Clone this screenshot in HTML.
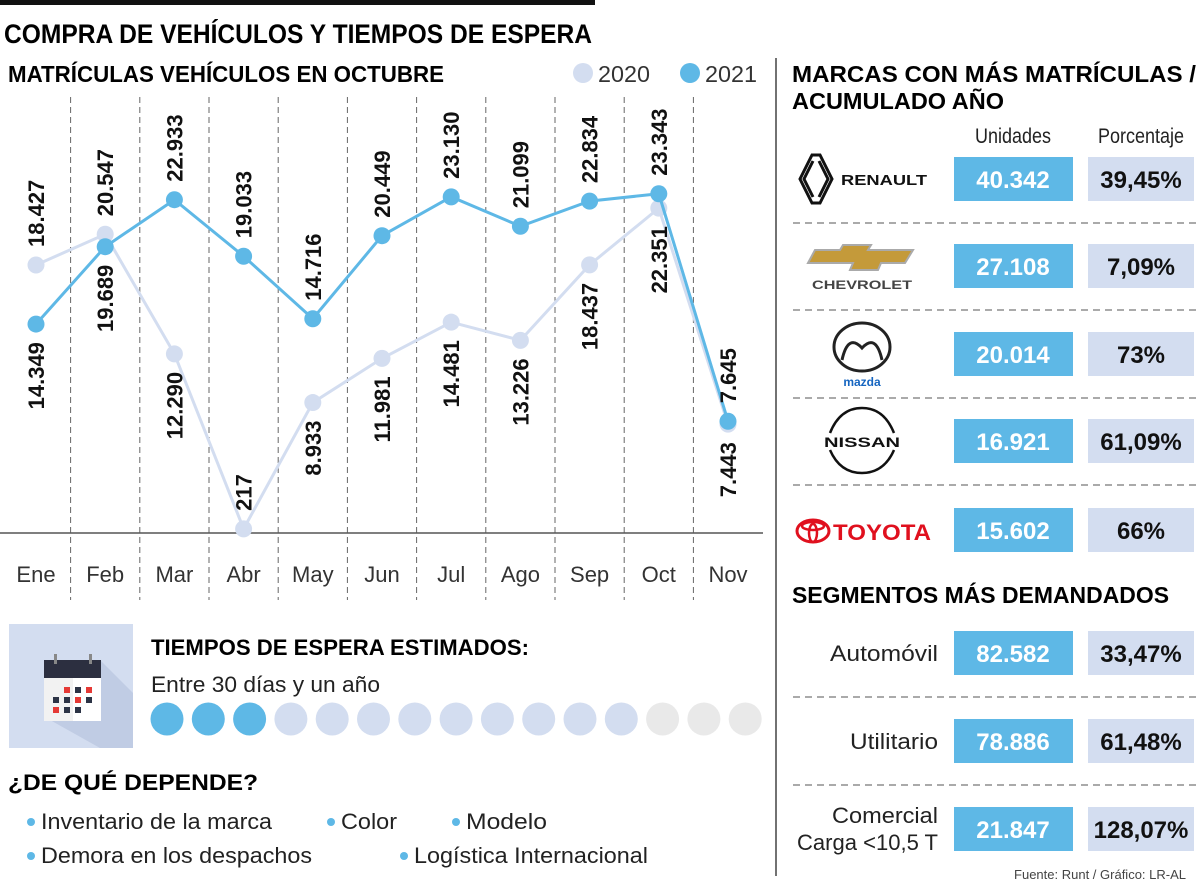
<!DOCTYPE html>
<html><head><meta charset="utf-8"><style>
body{margin:0;background:#fff;}
svg{display:block;font-family:"Liberation Sans",sans-serif;}
</style></head><body>
<svg width="1200" height="883" viewBox="0 0 1200 883">
<rect x="0" y="0" width="595" height="5" fill="#111"/>
<text x="4" y="43" font-size="27" font-weight="bold" textLength="588" lengthAdjust="spacingAndGlyphs">COMPRA DE VEHÍCULOS Y TIEMPOS DE ESPERA</text>
<text x="8" y="82" font-size="23" font-weight="bold" textLength="436" lengthAdjust="spacingAndGlyphs">MATRÍCULAS VEHÍCULOS EN OCTUBRE</text>
<g>
<circle cx="583" cy="73" r="10" fill="#d3ddf0"/>
<text x="598" y="82" font-size="23" fill="#333" textLength="52" lengthAdjust="spacingAndGlyphs">2020</text>
<circle cx="690" cy="73" r="10" fill="#5eb8e6"/>
<text x="705" y="82" font-size="23" fill="#333" textLength="52" lengthAdjust="spacingAndGlyphs">2021</text>
</g>
<g id="chart"></g>
<line x1="776" y1="58" x2="776" y2="876" stroke="#444" stroke-width="1.5"/>

<g>
<rect x="9" y="624" width="124" height="124" fill="#d3ddf0"/>
<polygon points="100,660 133,693 133,748 100,748 50,720" fill="#c0cce4"/>
<rect x="44" y="660" width="57" height="61" fill="#f2f2f2"/>
<rect x="73" y="670" width="28" height="51" fill="#fff"/>
<rect x="44" y="660" width="57" height="18" fill="#2c2f40"/>
<rect x="54" y="654" width="3" height="10" fill="#888"/><rect x="89" y="654" width="3" height="10" fill="#888"/>
<rect x="64" y="687" width="6" height="6" fill="#e53935"/><rect x="75" y="687" width="6" height="6" fill="#2c3345"/><rect x="86" y="687" width="6" height="6" fill="#e53935"/>
<rect x="53" y="697" width="6" height="6" fill="#2c3345"/><rect x="64" y="697" width="6" height="6" fill="#2c3345"/><rect x="75" y="697" width="6" height="6" fill="#e53935"/><rect x="86" y="697" width="6" height="6" fill="#2c3345"/>
<rect x="53" y="707" width="6" height="6" fill="#e53935"/><rect x="64" y="707" width="6" height="6" fill="#2c3345"/><rect x="75" y="707" width="6" height="6" fill="#2c3345"/>
</g>
<text x="151" y="655" font-size="22" font-weight="bold" textLength="378" lengthAdjust="spacingAndGlyphs">TIEMPOS DE ESPERA ESTIMADOS:</text>
<text x="151" y="692" font-size="22" fill="#222" textLength="229" lengthAdjust="spacingAndGlyphs">Entre 30 días y un año</text>
<g id="dots"></g>

<text x="8" y="790" font-size="22" font-weight="bold" textLength="250" lengthAdjust="spacingAndGlyphs">¿DE QUÉ DEPENDE?</text>
<g font-size="22" fill="#222">
<circle cx="31" cy="822" r="4" fill="#5eb8e6"/><text x="41" y="829" textLength="231" lengthAdjust="spacingAndGlyphs">Inventario de la marca</text>
<circle cx="331" cy="822" r="4" fill="#5eb8e6"/><text x="341" y="829" textLength="56" lengthAdjust="spacingAndGlyphs">Color</text>
<circle cx="456" cy="822" r="4" fill="#5eb8e6"/><text x="466" y="829" textLength="81" lengthAdjust="spacingAndGlyphs">Modelo</text>
<circle cx="31" cy="856" r="4" fill="#5eb8e6"/><text x="41" y="863" textLength="271" lengthAdjust="spacingAndGlyphs">Demora en los despachos</text>
<circle cx="404" cy="856" r="4" fill="#5eb8e6"/><text x="414" y="863" textLength="234" lengthAdjust="spacingAndGlyphs">Logística Internacional</text>
</g>

<text x="792" y="82" font-size="23" font-weight="bold" textLength="404" lengthAdjust="spacingAndGlyphs">MARCAS CON MÁS MATRÍCULAS /</text>
<text x="792" y="109" font-size="23" font-weight="bold" textLength="212" lengthAdjust="spacingAndGlyphs">ACUMULADO AÑO</text>
<text x="1013" y="143" font-size="21" fill="#222" text-anchor="middle" textLength="76" lengthAdjust="spacingAndGlyphs">Unidades</text>
<text x="1141" y="143" font-size="21" fill="#222" text-anchor="middle" textLength="86" lengthAdjust="spacingAndGlyphs">Porcentaje</text>
<g id="rows"></g>

<g>
<path d="M812,155 L800,179 L812,203 L820,203 L832,179 L820,155 Z M813,161 L804,179 L813,197 M819,161 L828,179 L819,197" fill="none" stroke="#111" stroke-width="3"/>
<text x="841" y="185" font-size="15" font-weight="bold" fill="#111" textLength="86" lengthAdjust="spacingAndGlyphs">RENAULT</text>
</g>
<g>
<polygon points="815,250 840,250 843,245 871,245 868,250 913,250 905,263 881,263 878,270 850,270 853,263 808,263" fill="#c49a3a" stroke="#aaa" stroke-width="2"/>
<text x="862" y="289" font-size="12" font-weight="bold" fill="#444" text-anchor="middle" textLength="100" lengthAdjust="spacingAndGlyphs">CHEVROLET</text>
</g>
<g>
<ellipse cx="862" cy="347" rx="28" ry="24" fill="none" stroke="#222" stroke-width="3"/>
<path d="M842,360 Q848,333 862,348 Q876,333 882,360" fill="none" stroke="#222" stroke-width="3"/>
<text x="862" y="386" font-size="12" font-weight="bold" fill="#1565c0" text-anchor="middle">mazda</text>
</g>
<g>
<path d="M830,433 Q840,408 862,408 Q884,408 894,433 M830,450 Q840,473 862,473 Q884,473 894,450" fill="none" stroke="#111" stroke-width="2.5"/>
<text x="862" y="447" font-size="14" font-weight="bold" fill="#111" text-anchor="middle" textLength="76" lengthAdjust="spacingAndGlyphs">NISSAN</text>
</g>
<g>
<ellipse cx="813" cy="531" rx="16" ry="11" fill="none" stroke="#e0101e" stroke-width="3"/>
<ellipse cx="813" cy="526" rx="11" ry="4" fill="none" stroke="#e0101e" stroke-width="2.5"/>
<ellipse cx="813" cy="533" rx="4" ry="9" fill="none" stroke="#e0101e" stroke-width="2.5"/>
<text x="833" y="540" font-size="22" font-weight="bold" fill="#e0101e" textLength="98" lengthAdjust="spacingAndGlyphs">TOYOTA</text>
</g>

<text x="792" y="603" font-size="23" font-weight="bold" textLength="377" lengthAdjust="spacingAndGlyphs">SEGMENTOS MÁS DEMANDADOS</text>
<text x="938" y="661" font-size="22" fill="#222" text-anchor="end" textLength="108" lengthAdjust="spacingAndGlyphs">Automóvil</text>
<text x="938" y="749" font-size="22" fill="#222" text-anchor="end" textLength="88" lengthAdjust="spacingAndGlyphs">Utilitario</text>
<text x="938" y="823" font-size="22" fill="#222" text-anchor="end" textLength="106" lengthAdjust="spacingAndGlyphs">Comercial</text>
<text x="938" y="850" font-size="22" fill="#222" text-anchor="end" textLength="141" lengthAdjust="spacingAndGlyphs">Carga &lt;10,5 T</text>
<text x="1186" y="879" font-size="13" fill="#444" text-anchor="end">Fuente: Runt / Gráfico: LR-AL</text>
</svg>
<script>
const months=["Ene","Feb","Mar","Abr","May","Jun","Jul","Ago","Sep","Oct","Nov"];
const v2020=[18427,20547,12290,217,8933,11981,14481,13226,18437,22351,7443];
const v2021=[14349,19689,22933,19033,14716,20449,23130,21099,22834,23343,7645];
const lbl2020=["18.427","20.547","12.290","217","8.933","11.981","14.481","13.226","18.437","22.351","7.443"];
const lbl2021=["14.349","19.689","22.933","19.033","14.716","20.449","23.130","21.099","22.834","23.343","7.645"];
const units=["40.342","27.108","20.014","16.921","15.602","82.582","78.886","21.847"];
const pcts=["39,45%","7,09%","73%","61,09%","66%","33,47%","61,48%","128,07%"];
const NS="http://www.w3.org/2000/svg";
function el(t,a,p){const e=document.createElementNS(NS,t);for(const k in a)e.setAttribute(k,a[k]);p.appendChild(e);return e;}
const X=i=>36+i*69.2;
const Y=v=>532-v*0.01449;
const g=document.getElementById('chart');
for(let i=0;i<10;i++){const l=el('line',{x1:X(i)+34.6,x2:X(i)+34.6,y1:97,y2:600,stroke:'#666','stroke-dasharray':'6,4','stroke-width':1},g);

}
const base=el('line',{x1:0,x2:763,y1:533,y2:533,stroke:'#555','stroke-width':1.5},g);


months.forEach((m,i)=>{const t=el('text',{x:X(i),y:582,'font-size':22,fill:'#333','text-anchor':'middle'},g);t.textContent=m;

});
function series(vals,col,name){
const p=el('polyline',{points:vals.map((v,i)=>X(i)+','+Y(v)).join(' '),fill:'none',stroke:col,'stroke-width':3},g);


vals.forEach((v,i)=>{const c=el('circle',{cx:X(i),cy:Y(v),r:8.5,fill:col},g);

});}
series(v2020,'#d3ddf0','series-2020');
series(v2021,'#5eb8e6','series-2021');
months.forEach((m,i)=>{
const a=v2020[i],b=v2021[i];
[[a,lbl2020[i]],[b,lbl2021[i]]].forEach(([v,s],k)=>{
const other=k?a:b;
const y=Y(v);const x=X(i)+8;
let above=v>=other;
if(!above && y+18+s.length*12.5>532) above=true;
const t=el('text',{'font-size':22,'font-weight':'bold',fill:'#111'},g);
t.textContent=s;
if(above){t.setAttribute('transform','translate('+x+','+(y-18)+') rotate(-90)');t.setAttribute('text-anchor','start');}
else{t.setAttribute('transform','translate('+x+','+(y+18)+') rotate(-90)');t.setAttribute('text-anchor','end');}


});});
const d=document.getElementById('dots');
for(let i=0;i<15;i++){const c=el('circle',{cx:167+i*41.3,cy:719,r:16.5,fill:i<3?'#5eb8e6':(i<12?'#d3ddf0':'#e9e9e9')},d);

}
const r=document.getElementById('rows');
const rowY=[179,266,354,441,530,653,741,829];
rowY.forEach((y,i)=>{
const b1=el('rect',{x:954,y:y-22,width:119,height:44,fill:'#5eb8e6'},r);


const t1=el('text',{x:1013,y:y+9,'font-size':24,'font-weight':'bold',fill:'#fff','text-anchor':'middle'},r);t1.textContent=units[i];


const b2=el('rect',{x:1088,y:y-22,width:106,height:44,fill:'#d3ddf0'},r);


const t2=el('text',{x:1141,y:y+9,'font-size':24,'font-weight':'bold',fill:'#111','text-anchor':'middle'},r);t2.textContent=pcts[i];


if(i!==4&&i!==7){const yy=y+44;const l=el('line',{x1:793,x2:1196,y1:yy,y2:yy,stroke:'#777','stroke-dasharray':'7,5','stroke-width':1.3},r);

}
});
</script>
</body></html>
